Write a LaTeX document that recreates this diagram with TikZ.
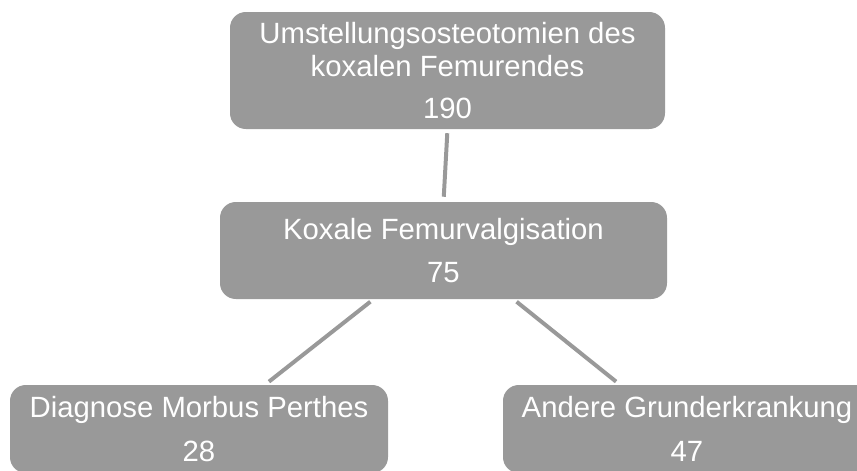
\documentclass[tikz,border=0pt]{standalone}
\usepackage{fontspec}
\setmainfont{Liberation Sans}
\usetikzlibrary{calc}

\definecolor{boxgray}{HTML}{999999}

\begin{document}
\begin{tikzpicture}[x=0.03cm, y=-0.03cm]

%-------------------------------------------------
% Styles
%-------------------------------------------------
\tikzset{
  box/.style={fill=boxgray, rounded corners=13.5pt, text=white, align=center,
              inner sep=0pt, font=\fontsize{25}{28}\selectfont},
  link/.style={draw=boxgray, line width=3.4pt, shorten <=3.4pt, shorten >=4.3pt}
}

% Picture frame
\useasboundingbox (0,0) rectangle (857,471);

%-------------------------------------------------
% Boxes
%-------------------------------------------------
\node[box, minimum width=435*0.03cm, minimum height=117*0.03cm] (osteo)
  at (447.5,70.5) {Umstellungsosteotomien des\\ koxalen Femurendes\\[8pt] 190};

\node[box, minimum width=447*0.03cm, minimum height=97*0.03cm] (valg)
  at (443.5,250.5) {Koxale Femurvalgisation\\[8.5pt] 75};

% bottom row, cut off by the frame
\node[box, minimum width=378*0.03cm, minimum height=88*0.03cm] (perthes)
  at (199,429) {Diagnose Morbus Perthes\\[9pt] 28};

\node[box, minimum width=368*0.03cm, minimum height=88*0.03cm] (andere)
  at (687,429) {Andere Grunderkrankung\\[9pt] 47};

%-------------------------------------------------
% Connectors
%-------------------------------------------------
\draw[link] (osteo.south) -- (valg.north);
\draw[link] ([xshift=-70*0.03cm]valg.south) -- ([xshift=66*0.03cm]perthes.north);
\draw[link] ([xshift=70*0.03cm]valg.south) -- ([xshift=-67*0.03cm]andere.north);

\end{tikzpicture}
\end{document}
